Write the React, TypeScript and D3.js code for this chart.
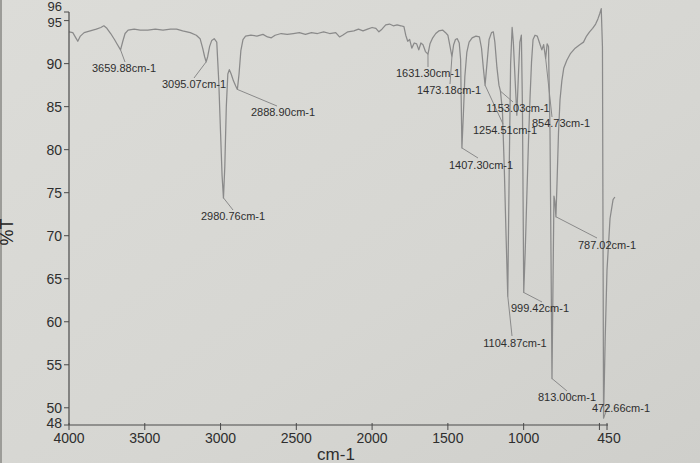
import React from "react";
import * as d3 from "d3";

// ---- data ----
const wavenumbers = [
  4000, 3975, 3955, 3942, 3925, 3900, 3860, 3820, 3790, 3770, 3750, 3725, 3700, 3680, 3659.88, 3645, 3630, 3610,
  3570, 3530, 3480, 3430, 3380, 3330, 3290, 3250, 3200, 3160, 3135, 3118, 3105, 3095.07, 3085, 3072, 3058, 3042,
  3025, 3012, 3000, 2990, 2980.76, 2972, 2962, 2952, 2942, 2930, 2915, 2900, 2888.9, 2878, 2866, 2852, 2835, 2800,
  2760, 2720, 2690, 2665, 2640, 2600, 2560, 2520, 2480, 2440, 2400, 2360, 2320, 2280, 2240, 2215, 2195, 2160, 2120,
  2090, 2060, 2030, 2000, 1975, 1955, 1935, 1910, 1885, 1860, 1835, 1810, 1790, 1778, 1765, 1752, 1738, 1722, 1706,
  1692, 1678, 1664, 1648, 1631.3, 1618, 1600, 1580, 1560, 1535, 1515, 1500, 1488, 1473.18, 1462, 1450, 1438, 1425,
  1416, 1407.3, 1398, 1388, 1375, 1360, 1340, 1315, 1292, 1278, 1266, 1254.51, 1242, 1228, 1212, 1200, 1190, 1176,
  1163, 1153.03, 1140, 1128, 1116, 1104.87, 1095, 1086, 1076, 1068, 1056, 1045, 1035, 1025, 1015, 1008, 999.42, 990,
  980, 968, 958, 948, 938, 925, 910, 895, 880, 868, 854.73, 845, 836, 826, 813, 806, 800, 794, 787.02, 780, 770, 760,
  748, 735, 715, 690, 660, 630, 605, 585, 565, 545, 525, 510, 498, 488, 480, 472.66, 462, 450, 430, 410, 398,
];
const transmittance = [
  93.7, 93.6, 93.0, 92.6, 93.2, 93.6, 93.8, 94.0, 94.2, 94.4, 94.1, 93.5, 92.8, 92.2, 91.6, 92.6, 93.5, 93.9,
  94.0, 93.9, 93.9, 94.0, 93.9, 94.0, 94.0, 93.8, 93.6, 93.3, 92.9, 91.8, 90.8, 90.2, 90.8, 92.0, 92.7, 92.9,
  92.5, 88, 82, 77, 74.4, 78, 85, 88.8, 89.3, 88.8, 88.0, 87.4, 87.0, 88.8, 91.5, 92.8, 93.2, 93.3,
  93.2, 93.4, 93.1, 93.0, 93.3, 93.5, 93.4, 93.5, 93.6, 93.4, 93.6, 93.5, 93.7, 93.5, 93.6, 93.1, 93.3, 93.7, 93.8,
  94.0, 93.8, 94.0, 94.2, 94.1, 93.7, 94.0, 94.5, 94.6, 94.4, 94.5, 94.4, 94.3, 93.3, 92.6, 92.8, 91.8, 92.4, 92.3,
  91.6, 92.4, 92.2, 91.4, 91.1, 92.3, 93.0, 93.5, 93.8, 93.9, 93.6, 93.3, 92.2, 90.8, 92.2, 92.8, 92.9, 92.4,
  90.5, 80.2, 84, 88.5, 91.3, 92.5, 93.0, 93.2, 93.1, 91.8, 89.5, 87.5, 90, 92.8, 93.6, 93.7, 92.5, 89.5,
  87.5, 86.8, 84.5, 78, 70, 63.0, 78, 90, 94.2, 92.5, 88, 84, 88.5, 92.5, 93.3, 85, 63.4, 68,
  74, 81, 86, 90.2, 92.8, 93.3, 93.2, 92.4, 91.6, 92.2, 90.6, 92.3, 92.0, 82, 53.4, 65, 74.6, 74.0, 72.2, 76, 82, 85.8,
  88, 89.5, 90.4, 91.2, 91.8, 92.2, 92.5, 93.2, 93.7, 94.1, 94.6, 95.2, 95.8, 96.4, 92, 48.8, 58, 66, 72, 74.2, 74.5,
];
const peakWavenumbers = [
  3659.88, 3095.07, 2980.76, 2888.9, 1631.3, 1473.18, 1407.3, 1254.51, 1153.03, 854.73, 999.42, 1104.87, 813.0,
  472.66, 787.02,
];
const yTicks = [96, 95, 90, 85, 80, 75, 70, 65, 60, 55, 50, 48];
const xTicks = [4000, 3500, 3000, 2500, 2000, 1500, 1000, 500, 450];
const xTickLabels = ["4000", "3500", "3000", "2500", "2000", "1500", "1000", "", "450"];
const xAxisTitle = "cm-1";
const yAxisTitle = "%T";

// ---- layout for peak labels (label centre x, baseline y, leader end x, y) ----
const peakLabelLayout = [
  [124, 72, 125, 62],
  [194, 88, 194, 78],
  [233, 220, 233, 210],
  [283, 116, 277, 106],
  [428, 77, 428, 67],
  [449, 94, 450, 84],
  [481, 169, 478, 158],
  [505, 134, 503, 124],
  [518, 112, 513, 102],
  [561, 127, 552, 117],
  [540, 312, 542, 302],
  [515, 347, 512, 336],
  [567, 401, 567, 391],
  [621, 412, 609, 404],
  [607, 249, 597, 238],
];

const W = 700;
const H = 463;

export default function App() {
  const x = d3.scaleLinear().domain([4000, 450]).range([69, 607]);
  const y = d3.scaleLinear().domain([48, 96]).range([425, 12]);
  const pts = wavenumbers.map((w, i) => [w, transmittance[i]] as [number, number]);
  const line = d3
    .line<[number, number]>()
    .x((d) => x(d[0]))
    .y((d) => y(d[1]))
    .curve(d3.curveLinear);

  const peakT = (w: number) => {
    const i = wavenumbers.findIndex((v) => Math.abs(v - w) < 0.01);
    return transmittance[i];
  };

  const textColor = "#2e2e2e";
  const traceColor = "#8a8a8a";
  const axisColor = "#4a4a4a";
  const font = "'Liberation Sans', Arial, sans-serif";

  return (
    <div style={{ position: "absolute", left: 0, top: 0, width: W, height: H, overflow: "hidden" }}>
      <svg width={W} height={H} style={{ display: "block" }} fontFamily={font}>
        <defs>
          <linearGradient id="paper" x1="0" y1="0" x2="1" y2="1">
            <stop offset="0" stopColor="#dcdcd8" />
            <stop offset="0.6" stopColor="#d6d6d2" />
            <stop offset="1" stopColor="#cfcfcb" />
          </linearGradient>
        </defs>
        <rect x={0} y={0} width={W} height={H} fill="url(#paper)" />
        <rect x={0} y={0} width={2} height={H} fill="#9c9c98" />

        {/* spectrum */}
        <path d={line(pts) || ""} fill="none" stroke={traceColor} strokeWidth={1.25} strokeLinejoin="round" />

        {/* peak annotations */}
        {peakWavenumbers.map((w, i) => {
          const [lx, ly, ex, ey] = peakLabelLayout[i];
          return (
            <g key={w}>
              <line x1={x(w)} y1={y(peakT(w))} x2={ex} y2={ey} stroke={traceColor} strokeWidth={1} />
              <text x={lx} y={ly} fontSize={11} fill={textColor} textAnchor="middle">
                {w.toFixed(2)}cm-1
              </text>
            </g>
          );
        })}

        {/* y axis */}
        <line x1={69} y1={y(96)} x2={69} y2={y(48)} stroke={axisColor} strokeWidth={1.2} />
        {yTicks.map((t) => (
          <g key={t}>
            <line x1={64} x2={69} y1={y(t)} y2={y(t)} stroke={axisColor} strokeWidth={1} />
            <text
              x={62}
              y={y(t) + (t === 96 ? -6 : t === 95 ? 2 : t === 48 ? -2 : 0)}
              dy="0.36em"
              fontSize={t === 96 || t === 95 ? 13 : 14}
              textAnchor="end"
              fill={textColor}
            >
              {t}
            </text>
          </g>
        ))}

        {/* x axis */}
        <line x1={69} y1={y(48)} x2={x(450) + 1} y2={y(48)} stroke={axisColor} strokeWidth={1.2} />
        {xTicks.map((t, i) => (
          <g key={t}>
            <line x1={x(t)} x2={x(t)} y1={y(48) - 2} y2={y(48) + 5} stroke={axisColor} strokeWidth={1} />
            <text x={x(t) + (t === 450 ? 2 : 0)} y={443} fontSize={14} textAnchor="middle" fill={textColor}>
              {xTickLabels[i]}
            </text>
          </g>
        ))}

        <text x={336} y={460} fontSize={17} textAnchor="middle" fill={textColor}>
          {xAxisTitle}
        </text>
        <text transform="translate(13,232) rotate(-90)" fontSize={18} textAnchor="middle" fill="#222">
          {yAxisTitle}
        </text>
      </svg>
    </div>
  );
}
